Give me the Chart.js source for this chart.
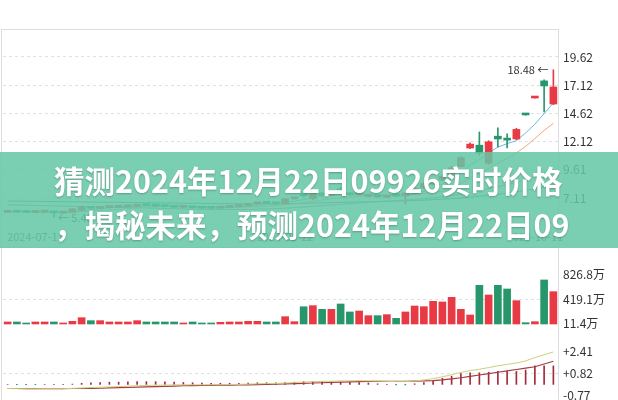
<!DOCTYPE html>
<html>
<head>
<meta charset="utf-8">
<script src="https://cdn.jsdelivr.net/npm/chart.js@4.4.1/dist/chart.umd.min.js"></script>
<style>
html, body { margin: 0; padding: 0; background: #fff; }
body { width: 618px; height: 400px; position: relative; overflow: hidden; font-family: "Noto Sans CJK SC", sans-serif; }
#frame { position: absolute; left: 1px; top: 29px; width: 558px; height: 372px; border: 1px solid #dedede; box-sizing: border-box; }
#sep { position: absolute; left: 1px; top: 247px; width: 558px; height: 1px; background: #dedede; }
canvas { position: absolute; left: 0; }
#banner {
    position: absolute; left: 0; top: 152px; width: 618px; height: 96px; box-sizing: border-box; padding: 6px 0 0 54px;
    background: rgba(100, 198, 164, 0.86); color: #fff; font-weight: 700; font-size: 30.5px; line-height: 44px;
    text-align: left; white-space: nowrap; text-shadow: 0 1px 2px rgba(0, 0, 0, .25);
}
</style>
</head>
<body>
<div id="frame"></div>
<div id="sep"></div>
<canvas id="cPrice" width="618" height="217" style="top:30px"></canvas>
<canvas id="cVol" width="618" height="82" style="top:248px"></canvas>
<canvas id="cMacd" width="618" height="60" style="top:340px"></canvas>
<div id="banner">猜测2024年12月22日09926实时价格<br>，揭秘未来，预测2024年12月22日09</div>

<script>
// ---- data ----
const xTickIdx = [3, 30, 57];
const xTickText = ['2024-07-11', '2024-08-22', '2024-10-11'];

const opens  = [5.85,5.90,5.86,5.84,5.87,5.90,5.78,5.85,6.05,6.35, 6.20,6.28,6.30,6.34,6.38,6.55,6.45,6.42,6.36,6.30,
                6.32,6.25,6.24,6.22,6.28,6.36,6.45,6.60,6.72,6.66, 6.60,7.05,7.55,7.05,7.55,7.35,7.95,7.55,7.40,7.25,
                7.30,7.18,7.45,7.30,7.55,8.00,8.35,8.70,9.00,9.90, 11.55,11.80,10.20,12.60,12.30,12.35,14.50,15.98,17.50,15.45];
const closes = [5.90,5.86,5.84,5.88,5.90,5.80,5.81,6.15,6.35,6.20, 6.30,6.32,6.36,6.40,6.55,6.45,6.40,6.36,6.30,6.32,
                6.25,6.22,6.20,6.28,6.36,6.45,6.60,6.72,6.65,6.60, 7.05,7.10,7.30,7.60,7.35,7.50,7.55,7.40,7.60,7.35,
                7.20,7.25,7.30,7.55,8.00,8.40,8.75,9.05,9.80,10.70, 11.90,11.10,12.10,12.35,12.25,13.20,14.48,16.00,17.05,16.96];
const highs  = [5.95,5.93,5.88,5.91,5.94,5.92,5.86,6.20,6.42,6.38, 6.34,6.36,6.40,6.44,6.60,6.58,6.48,6.45,6.39,6.35,
                6.34,6.28,6.26,6.31,6.40,6.49,6.64,6.76,6.76,6.70, 7.12,7.16,7.70,7.70,7.62,7.58,8.10,7.62,7.66,7.40,
                7.34,7.30,7.52,7.62,8.08,8.48,8.84,9.15,9.90,10.80, 12.00,12.97,12.20,13.33,12.80,13.30,14.52,16.02,17.60,18.48];
const lows   = [5.82,5.83,5.81,5.82,5.84,5.40,5.72,5.82,6.00,6.15, 6.16,6.24,6.27,6.30,6.35,6.42,6.36,6.33,6.27,6.27,
                6.22,6.19,6.17,6.19,6.25,6.33,6.42,6.56,6.61,6.56, 6.58,7.00,7.20,6.95,7.30,7.30,7.50,7.35,7.36,7.20,
                7.15,7.14,7.26,6.60,7.50,7.95,8.30,8.64,8.95,9.85, 11.50,10.90,10.10,11.64,11.55,12.30,14.46,15.96,14.75,15.40];

const ma5  = [5.90,5.89,5.88,5.87,5.88,5.86,5.83,5.88,5.98,6.06, 6.16,6.26,6.30,6.34,6.40,6.42,6.42,6.42,6.40,6.37,
              6.33,6.29,6.26,6.25,6.26,6.30,6.38,6.48,6.55,6.60, 6.74,6.82,6.98,7.15,7.28,7.37,7.45,7.46,7.48,7.44,
              7.38,7.33,7.28,7.33,7.46,7.70,8.00,8.35,8.80,9.34, 10.04,10.51,11.12,11.63,11.94,12.20,12.88,13.66,14.60,15.54];
const ma10 = [5.95,5.93,5.92,5.90,5.89,5.88,5.87,5.88,5.92,5.96, 6.02,6.07,6.12,6.18,6.24,6.30,6.34,6.37,6.38,6.38,
              6.37,6.36,6.34,6.33,6.32,6.31,6.32,6.34,6.37,6.44, 6.52,6.60,6.70,6.82,6.95,7.05,7.12,7.20,7.28,7.34,
              7.38,7.41,7.38,7.40,7.45,7.52,7.62,7.70,7.84,8.40, 8.87,9.26,9.74,10.22,10.64,11.12,11.69,12.39,13.11,13.74];
const ma30 = [6.52,6.50,6.48,6.46,6.44,6.42,6.40,6.38,6.36,6.35, 6.33,6.31,6.29,6.27,6.25,6.23,6.21,6.19,6.17,6.15,
              6.13,6.12,6.11,6.10,6.10,6.10,6.11,6.13,6.15,6.18, 6.22,6.27,6.32,6.38,6.44,6.50,6.56,6.62,6.68,6.73,
              6.78,6.83,6.88,6.93,6.99,7.06,7.14,7.23,7.34,7.47, 7.63,7.78,7.95,8.12,8.30,8.50,8.74,9.02,9.36,9.70];
const ma60 = [6.85,6.84,6.83,6.82,6.81,6.80,6.79,6.78,6.77,6.76, 6.75,6.74,6.73,6.72,6.71,6.70,6.69,6.68,6.67,6.66,
              6.65,6.64,6.63,6.62,6.61,6.60,6.60,6.60,6.60,6.61, 6.62,6.63,6.65,6.67,6.69,6.71,6.73,6.75,6.77,6.79,
              6.81,6.83,6.85,6.87,6.90,6.93,6.97,7.01,7.06,7.12, 7.20,7.28,7.37,7.46,7.56,7.67,7.79,7.93,8.09,8.27];

// volume, 万
const vols = [34,34,17,34,34,34,17,45,106,56, 56,34,34,34,56,34,34,34,34,17,
              34,17,17,28,34,34,45,45,34,34, 123,39,290,308,246,246,336,202,218,140,
              140,157,95,202,302,291,381,370,448,246, 151,650,487,650,588,392,22,39,740,543];

const dif  = [-0.30,-0.31,-0.32,-0.32,-0.31,-0.31,-0.31,-0.29,-0.26,-0.23, -0.21,-0.18,-0.16,-0.13,-0.10,-0.08,-0.06,-0.05,-0.04,-0.03,
              -0.03,-0.03,-0.03,-0.02,-0.01,0.00,0.02,0.04,0.06,0.07, 0.10,0.13,0.17,0.20,0.22,0.23,0.25,0.26,0.27,0.26,
              0.24,0.22,0.20,0.20,0.25,0.32,0.42,0.55,0.70,0.87, 1.00,1.10,1.22,1.35,1.45,1.55,1.70,1.95,2.15,2.35];
const dea  = [-0.30,-0.30,-0.31,-0.31,-0.31,-0.31,-0.31,-0.30,-0.30,-0.29, -0.28,-0.26,-0.24,-0.22,-0.20,-0.18,-0.16,-0.14,-0.12,-0.10,
              -0.09,-0.08,-0.07,-0.06,-0.05,-0.04,-0.03,-0.02,0.00,0.01, 0.03,0.05,0.07,0.10,0.12,0.14,0.16,0.18,0.20,0.21,
              0.22,0.22,0.22,0.22,0.23,0.25,0.28,0.33,0.40,0.48, 0.58,0.68,0.78,0.88,0.98,1.08,1.18,1.28,1.48,1.68];
const hist = [0,-0.02,-0.02,-0.02,0,0,0,0.02,0.08,0.12, 0.14,0.16,0.16,0.18,0.20,0.20,0.20,0.18,0.16,0.14,
              0.12,0.10,0.08,0.08,0.08,0.08,0.10,0.12,0.12,0.12, 0.14,0.16,0.20,0.20,0.20,0.18,0.18,0.16,0.14,0.10,
              0.04,0,-0.04,-0.04,0.04,0.14,0.28,0.44,0.60,0.78, 0.84,0.84,0.88,0.94,0.94,0.94,1.04,1.34,1.34,1.34];

const priceTicks = [7.11, 9.61, 12.12, 14.62, 17.12, 19.62];
const volTicks = [11.4, 419.1, 826.8];
const macdTicks = [-0.77, 0.82, 2.41];

// ---- styles ----
const FONT = '"Noto Sans CJK SC", "Noto Sans", sans-serif';
const RED = '#e83a45';
const GREEN = '#27976b';

Chart.defaults.font.family = FONT;
Chart.defaults.animation = false;

const dates = opens.map((_, i) => {
    const k = xTickIdx.indexOf(i);
    return k < 0 ? '' : xTickText[k];
});
const candleColors = opens.map((o, i) => closes[i] >= o ? RED : GREEN);

function xAxis(show) {
    return {
        type: 'category', offset: true, display: show,
        grid: { display: false, drawTicks: false }, border: { display: false },
        ticks: { autoSkip: false, maxRotation: 0, padding: 2, color: '#555', font: { size: 11 } },
        afterBuildTicks: s => { s.ticks = xTickIdx.map(v => ({ value: v })); },
        afterFit: s => {
            s.height = show ? 19 : 0;
            s.paddingLeft = 0; s.paddingRight = 0;
        }
    };
}

function yAxis(min, max, vals, fmt, gridAt) {
    return {
        position: 'right', min, max,
        afterBuildTicks: s => { s.ticks = vals.map(v => ({ value: v })); },
        // no extra room for half labels: the plot must fill its panel
        afterFit: s => { s.width = 60; s.paddingTop = 0; s.paddingBottom = 0; },
        grid: {
            drawTicks: false,
            color: c => (gridAt === null || (c.tick && c.tick.value === gridAt)) ? '#e0e0e0' : 'rgba(0,0,0,0)'
        },
        border: { display: false, dash: [3, 3] },
        ticks: { padding: 5, color: '#333', font: { size: 12 }, callback: v => fmt(v) }
    };
}

const common = {
    responsive: false,
    devicePixelRatio: 1,
    layout: { padding: { left: 3, right: 0, top: 0, bottom: 0 } },
    plugins: { legend: { display: false }, tooltip: { enabled: false } }
};

// high / low price marks
const markPlugin = {
    id: 'marks',
    afterDatasetsDraw(chart) {
        const { ctx, scales: { x, y } } = chart;
        const hi = highs.indexOf(Math.max(...highs));
        const lo = lows.indexOf(Math.min(...lows));
        ctx.save();
        ctx.font = '11px ' + FONT;
        ctx.fillStyle = '#333';
        ctx.textBaseline = 'middle';
        ctx.textAlign = 'right';
        ctx.fillText(highs[hi].toFixed(2) + ' ←', x.getPixelForValue(hi) - 5, y.getPixelForValue(highs[hi]));
        ctx.textAlign = 'left';
        ctx.fillText('← ' + lows[lo].toFixed(2), x.getPixelForValue(lo) + 4, y.getPixelForValue(lows[lo]));
        ctx.restore();
    }
};

const maLine = (data, color, order) => ({
    type: 'line', data, borderColor: color, borderWidth: 1, pointRadius: 0, tension: 0, order
});

new Chart(document.getElementById('cPrice'), {
    type: 'bar',
    data: {
        labels: dates,
        datasets: [
            { data: opens.map((o, i) => [Math.min(o, closes[i]), Math.max(o, closes[i])]),
              backgroundColor: candleColors, barThickness: 7, grouped: false, minBarLength: 2, order: 0 },
            { data: lows.map((l, i) => [l, highs[i]]),
              backgroundColor: candleColors, barThickness: 1, grouped: false, order: 1 },
            maLine(ma5, '#6cb7e6', 2),
            maLine(ma10, '#f0a57c', 3),
            maLine(ma30, '#9b8fc9', 4),
            maLine(ma60, '#3f9c94', 5)
        ]
    },
    options: {
        ...common,
        scales: {
            x: xAxis(true),
            y: yAxis(4.46, 22.01, priceTicks, v => v.toFixed(2), null)
        }
    },
    plugins: [markPlugin]
});

new Chart(document.getElementById('cVol'), {
    type: 'bar',
    data: {
        labels: dates,
        datasets: [{ data: vols, backgroundColor: candleColors, barThickness: 7 }]
    },
    options: {
        ...common,
        scales: {
            x: xAxis(false),
            y: yAxis(-101, 1277, volTicks, v => v.toFixed(1) + '万', volTicks[1])
        }
    }
});

new Chart(document.getElementById('cMacd'), {
    type: 'bar',
    data: {
        labels: dates,
        datasets: [
            maLine(dif, '#cdd07a', 0),
            { ...maLine(dea, '#a33a44', 1), borderWidth: 1.2 },
            { data: hist, backgroundColor: hist.map(v => v >= 0 ? '#a52a3a' : GREEN), barThickness: 1, order: 2 }
        ]
    },
    options: {
        ...common,
        layout: { padding: { left: 3, right: 0, top: 0, bottom: 5 } },
        scales: {
            x: xAxis(false),
            y: yAxis(-0.77, 3.22, macdTicks, v => (v > 0 ? '+' : '') + v.toFixed(2), macdTicks[1])
        }
    }
});
</script>
</body>
</html>
